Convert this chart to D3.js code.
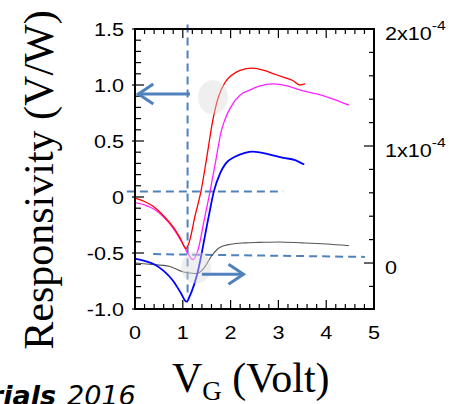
<!doctype html>
<html>
  <head>
    <script src="https://cdnjs.cloudflare.com/ajax/libs/d3/7.8.5/d3.min.js"></script>
    <style>
      body { margin: 0; background: #fff; }
      text.tick { font-family: "Liberation Sans", Arial, sans-serif; font-size: 18px; fill: #000; }
      text.title { font-family: "Liberation Serif", "Times New Roman", serif; fill: #000; }
      .frame { fill: none; stroke: #000; stroke-width: 2px; }
      .tk { stroke: #000; stroke-width: 1.2px; }
      .dash { stroke: #4f81bd; stroke-width: 2px; stroke-dasharray: 8,5; fill: none; }
      .arrow { stroke: #4f81bd; stroke-width: 3px; fill: none; }
    </style>
  </head>
  <body>
    <svg id="chart" width="460" height="404"></svg>
    <script>
      // gate voltage / responsivity
      var redV   = [0, 0.2, 0.4, 0.6, 0.8, 0.95, 1.07, 1.15, 1.25, 1.38, 1.5, 1.63, 1.75, 1.88, 2.0, 2.2, 2.45, 2.7, 2.9, 3.1, 3.3, 3.45, 3.56];
      var redR   = [-0.01, -0.04, -0.09, -0.17, -0.27, -0.37, -0.46, -0.38, -0.18, 0.05, 0.35, 0.69, 0.9, 1.02, 1.08, 1.13, 1.15, 1.13, 1.1, 1.07, 1.04, 1.0, 1.01];

      var magV   = [0, 0.2, 0.4, 0.6, 0.8, 1.0, 1.1, 1.21, 1.32, 1.45, 1.57, 1.7, 1.8, 1.88, 2.0, 2.2, 2.4, 2.6, 2.9, 3.2, 3.5, 3.8, 4.1, 4.3, 4.48];
      var magR   = [-0.05, -0.07, -0.11, -0.18, -0.28, -0.42, -0.5, -0.56, -0.47, -0.2, 0.05, 0.35, 0.58, 0.69, 0.8, 0.91, 0.955, 0.99, 1.01, 0.99, 0.95, 0.92, 0.88, 0.85, 0.82];

      var bluV   = [0, 0.2, 0.4, 0.6, 0.8, 0.95, 1.08, 1.15, 1.3, 1.53, 1.65, 1.78, 1.9, 2.09, 2.3, 2.47, 2.8, 3.1, 3.35, 3.54];
      var bluR   = [-0.55, -0.57, -0.6, -0.66, -0.75, -0.85, -0.935, -0.88, -0.69, -0.2, 0.05, 0.21, 0.3, 0.36, 0.395, 0.405, 0.38, 0.35, 0.33, 0.29];

      // right axis series (units of 1e-4)
      var blkV   = [0, 0.3, 0.73, 1.0, 1.15, 1.3, 1.45, 1.6, 1.78, 2.0, 2.3, 2.6, 3.0, 3.5, 4.0, 4.48];
      var blkR   = [0, -0.01, -0.03, -0.074, -0.085, -0.09, -0.04, 0.06, 0.135, 0.16, 0.172, 0.176, 0.18, 0.172, 0.162, 0.148];

      var xTicks = [0, 1, 2, 3, 4, 5];
      var yTicks = [1.5, 1.0, 0.5, 0, -0.5, -1.0];
      var yTickLabels = ["1.5", "1.0", "0.5", "0", "-0.5", "-1.0"];
      var y2Ticks = [2, 1, 0];
      var y2Mant = ["2x10", "1x10", "0"];

      var svg = d3.select("#chart");
      var pL = 135, pR = 374, pT = 29, pB = 309;

      var x = d3.scaleLinear().domain([0, 5]).range([pL, pR]);
      var y = d3.scaleLinear().domain([-1.0, 1.5]).range([pB, pT]);
      var y2 = d3.scaleLinear().domain([-0.393, 2]).range([pB, pT]);

      // ticks, all inward
      d3.range(0, 5.001, 0.2).forEach(function (v) {
        var major = Math.abs(v - Math.round(v)) < 1e-6;
        var len = major ? 9 : 5;
        svg.append("line").attr("class", "tk")
          .attr("x1", x(v)).attr("x2", x(v)).attr("y1", pB).attr("y2", pB - len);
        svg.append("line").attr("class", "tk")
          .attr("x1", x(v)).attr("x2", x(v)).attr("y1", pT).attr("y2", pT + len);
      });
      d3.range(-1.0, 1.5001, 0.1).forEach(function (v) {
        var major = Math.abs(v * 2 - Math.round(v * 2)) < 1e-6;
        svg.append("line").attr("class", "tk")
          .attr("x1", pL - (major ? 3 : 0)).attr("x2", pL + (major ? 9 : 6))
          .attr("y1", y(v)).attr("y2", y(v));
      });
      d3.range(-0.2, 2.001, 0.2).forEach(function (v) {
        var major = Math.abs(v - Math.round(v)) < 1e-6;
        svg.append("line").attr("class", "tk")
          .attr("x1", pR).attr("x2", pR - (major ? 10 : 5))
          .attr("y1", y2(v)).attr("y2", y2(v));
      });

      // tick labels (the original font is drawn wide, so stretch a little)
      var sx = 1.2;
      svg.selectAll("text.xl").data(xTicks).enter().append("text")
        .attr("class", "tick").attr("text-anchor", "middle")
        .attr("transform", d => `translate(${x(d)},${pB + 30}) scale(${sx},1)`).text(d => d);
      svg.selectAll("text.yl").data(yTicks).enter().append("text")
        .attr("class", "tick").attr("text-anchor", "end")
        .attr("transform", d => `translate(${pL - 11},${y(d) + 7}) scale(${sx},1)`)
        .text((d, i) => yTickLabels[i]);
      y2Ticks.forEach(function (v, i) {
        var t = svg.append("text").attr("class", "tick")
          .attr("transform", `translate(${pR + 11},${y2(v) + 11}) scale(${sx},1)`);
        t.append("tspan").text(y2Mant[i]);
        if (v !== 0) {
          t.append("tspan").attr("dy", -10).attr("font-size", 13).text("-4");
        }
      });

      // gray highlight spots
      var spotV = [1.63, 1.28], spotR = [0.89, -0.63];

      // annotation guides
      svg.append("line").attr("class", "dash")
        .attr("x1", x(1.1)).attr("x2", x(1.1)).attr("y1", y(1.54)).attr("y2", y(-0.9));
      svg.append("line").attr("class", "dash")
        .attr("x1", x(-0.17)).attr("x2", x(3.1)).attr("y1", y(0.05)).attr("y2", y(0.05));
      svg.append("line").attr("class", "dash")
        .attr("x1", x(0.38)).attr("x2", x(4.81)).attr("y1", y(-0.51)).attr("y2", y(-0.535));

      // curves
      var line = d3.line().curve(d3.curveMonotoneX);
      function draw(vs, rs, sc, color, w) {
        svg.append("path")
          .attr("d", line(vs.map((v, i) => [x(v), sc(rs[i])])))
          .attr("fill", "none").attr("stroke", color).attr("stroke-width", w);
      }
      draw(blkV, blkR, y2, "#555", 1.1);
      draw(magV, magR, y, "#ff22ff", 1.3);
      draw(redV, redR, y, "#ff0000", 1.3);
      draw(bluV, bluR, y, "#0000ff", 1.8);

      svg.selectAll("ellipse").data(spotV).enter().append("ellipse")
        .attr("cx", d => x(d)).attr("cy", (d, i) => y(spotR[i]))
        .attr("rx", 15).attr("ry", (d, i) => i === 0 ? 17 : 16)
        .attr("fill", "#dcdcdc").attr("opacity", 0.45);

      // arrows
      function arrow(v0, v1, r) {
        var x0 = x(v0), x1 = x(v1), yy = y(r), dir = x1 > x0 ? -1 : 1;
        svg.append("line").attr("class", "arrow")
          .attr("x1", x0).attr("x2", x1).attr("y1", yy).attr("y2", yy);
        svg.append("path").attr("class", "arrow")
          .attr("d", `M${x1 + dir * 15},${yy - 10}L${x1},${yy}L${x1 + dir * 15},${yy + 10}`);
      }
      arrow(1.15, 0.07, 0.92);
      arrow(1.4, 2.27, -0.69);

      // frame
      svg.append("rect").attr("class", "frame")
        .attr("x", pL).attr("y", pT).attr("width", pR - pL).attr("height", pB - pT);

      // titles
      svg.append("text").attr("class", "title")
        .attr("transform", "translate(53,180) rotate(-90)")
        .attr("text-anchor", "middle").attr("font-size", 42)
        .text("Responsivity (V/W)");
      var xt = svg.append("text").attr("class", "title")
        .attr("x", 172).attr("y", 392).attr("font-size", 42);
      xt.append("tspan").text("V");
      xt.append("tspan").attr("dy", 8).attr("font-size", 27).text("G");
      xt.append("tspan").attr("dy", -8).text(" (Volt)");

      // cropped source caption
      svg.append("text").attr("x", 56).attr("y", 405).attr("text-anchor", "end")
        .attr("font-family", "DejaVu Sans, sans-serif").attr("font-size", 27)
        .attr("font-weight", "bold").attr("font-style", "italic").text("Materials");
      svg.append("text").attr("x", 67).attr("y", 405)
        .attr("font-family", "DejaVu Sans, sans-serif").attr("font-size", 27)
        .attr("font-style", "italic").text("2016");
    </script>
  </body>
</html>
